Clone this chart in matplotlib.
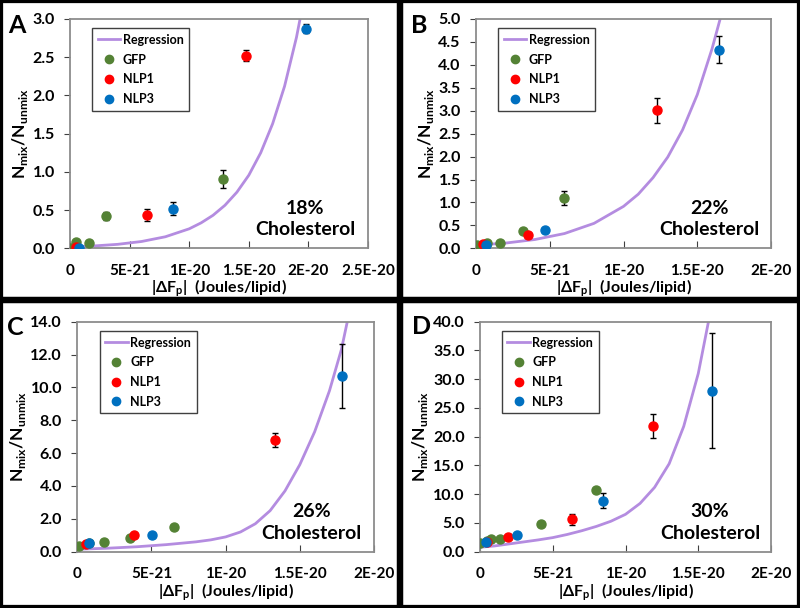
import numpy as np
import matplotlib.pyplot as plt
from matplotlib.lines import Line2D

plt.rcParams['font.family'] = ['Lato', 'DejaVu Sans']
plt.rcParams['mathtext.fontset'] = 'custom'
plt.rcParams['mathtext.bf'] = 'Lato:bold'
plt.rcParams['mathtext.rm'] = 'Lato'

# x values in units of 1e-20 J/lipid
# panel A - 18% cholesterol
a_gfp_x = [0.011, 0.053, 0.16, 0.305, 1.28]
a_gfp_y = [0.01, 0.079, 0.065, 0.42, 0.91]
a_gfp_e = [0, 0, 0, 0.05, 0.12]
a_nlp1_x = [0.053, 0.647, 1.479]
a_nlp1_y = [0.02, 0.44, 2.52]
a_nlp1_e = [0, 0.08, 0.07]
a_nlp3_x = [0.073, 0.863, 1.98]
a_nlp3_y = [0.0, 0.52, 2.875]
a_nlp3_e = [0, 0.08, 0.06]
a_fit_x = [0, 0.2, 0.4, 0.6, 0.8, 1.0, 1.1, 1.2, 1.3, 1.4, 1.5, 1.6, 1.7, 1.8, 1.9, 1.93]
a_fit_y = [0.018, 0.031, 0.052, 0.089, 0.151, 0.255, 0.333, 0.432, 0.563, 0.734,
           0.956, 1.25, 1.63, 2.12, 2.76, 3.0]

# panel B - 22%
b_gfp_x = [0.009, 0.072, 0.162, 0.32, 0.595]
b_gfp_y = [0.07, 0.12, 0.11, 0.38, 1.09]
b_gfp_e = [0, 0, 0, 0, 0.15]
b_nlp1_x = [0.05, 0.353, 1.228]
b_nlp1_y = [0.09, 0.30, 3.01]
b_nlp1_e = [0, 0, 0.27]
b_nlp3_x = [0.068, 0.466, 1.649]
b_nlp3_y = [0.07, 0.40, 4.33]
b_nlp3_e = [0, 0, 0.30]
b_fit_x = [0, 0.2, 0.4, 0.6, 0.8, 1.0, 1.1, 1.2, 1.3, 1.4, 1.5, 1.6, 1.655]
b_fit_y = [0.068, 0.114, 0.192, 0.322, 0.544, 0.914, 1.18, 1.54, 1.99, 2.58, 3.35, 4.35, 5.0]

# panel C - 26%
c_gfp_x = [0.011, 0.08, 0.18, 0.355, 0.653]
c_gfp_y = [0.37, 0.5, 0.62, 0.83, 1.49]
c_gfp_e = [0, 0, 0, 0, 0]
c_nlp1_x = [0.056, 0.384, 1.333]
c_nlp1_y = [0.45, 1.0, 6.8]
c_nlp1_e = [0, 0, 0.45]
c_nlp3_x = [0.077, 0.505, 1.786]
c_nlp3_y = [0.51, 1.02, 10.7]
c_nlp3_e = [0, 0, 1.97]
c_fit_x = [0, 0.2, 0.4, 0.6, 0.8, 0.9, 1.0, 1.1, 1.2, 1.3, 1.4, 1.5, 1.6, 1.7, 1.78, 1.82]
c_fit_y = [0.15, 0.21, 0.3, 0.43, 0.6, 0.72, 0.9, 1.2, 1.7, 2.5, 3.7, 5.3, 7.3, 9.8, 12.3, 14.0]

# panel D - 30%
d_gfp_x = [0.0, 0.05, 0.074, 0.138, 0.417, 0.80]
d_gfp_y = [1.57, 1.9, 2.15, 2.15, 4.76, 10.7]
d_gfp_e = [0, 0, 0, 0, 0, 0]
d_nlp1_x = [0.05, 0.195, 0.635, 1.192]
d_nlp1_y = [1.74, 2.5, 5.63, 21.86]
d_nlp1_e = [0, 0, 0.9, 2.17]
d_nlp3_x = [0.041, 0.254, 0.844, 1.596]
d_nlp3_y = [1.69, 2.9, 8.87, 28.0]
d_nlp3_e = [0, 0, 1.3, 9.97]
d_fit_x = [0, 0.1, 0.2, 0.3, 0.4, 0.5, 0.6, 0.7, 0.8, 0.9, 1.0, 1.1, 1.2, 1.3, 1.4, 1.5, 1.57]
d_fit_y = [0.77, 1.0, 1.35, 1.7, 2.05, 2.45, 3.0, 3.65, 4.4, 5.3, 6.5, 8.4, 11.2, 15.3, 21.8, 31.0, 40.0]

letters = ['A', 'B', 'C', 'D']
chol = ['18%', '22%', '26%', '30%']
ymax = [3.0, 5.0, 14.0, 40.0]
ystep = [0.5, 0.5, 2.0, 5.0]
xmax = [2.5, 2.0, 2.0, 2.0]
xtick_labels = ['0', '5E-21', '1E-20', '1.5E-20', '2E-20', '2.5E-20']

col_gfp = '#548235'
col_nlp1 = '#FF0000'
col_nlp3 = '#0070C0'
col_fit = '#B48CE0'

# axes rectangles in figure fraction
rects = [[0.0875, 0.5916, 0.3725, 0.3772],
         [0.595, 0.5916, 0.3688, 0.3772],
         [0.0966, 0.0926, 0.3709, 0.3783],
         [0.600, 0.0926, 0.3638, 0.3783]]
# letter positions (pixels from left / baseline from top)
letter_xy = [(8, 33), (411, 33), (7, 335), (412, 334)]

panels = [
    (a_gfp_x, a_gfp_y, a_gfp_e, a_nlp1_x, a_nlp1_y, a_nlp1_e, a_nlp3_x, a_nlp3_y, a_nlp3_e, a_fit_x, a_fit_y),
    (b_gfp_x, b_gfp_y, b_gfp_e, b_nlp1_x, b_nlp1_y, b_nlp1_e, b_nlp3_x, b_nlp3_y, b_nlp3_e, b_fit_x, b_fit_y),
    (c_gfp_x, c_gfp_y, c_gfp_e, c_nlp1_x, c_nlp1_y, c_nlp1_e, c_nlp3_x, c_nlp3_y, c_nlp3_e, c_fit_x, c_fit_y),
    (d_gfp_x, d_gfp_y, d_gfp_e, d_nlp1_x, d_nlp1_y, d_nlp1_e, d_nlp3_x, d_nlp3_y, d_nlp3_e, d_fit_x, d_fit_y),
]

fig = plt.figure(figsize=(8, 6.08), dpi=100)

for i, p in enumerate(panels):
    gx, gy, ge, n1x, n1y, n1e, n3x, n3y, n3e, fx, fy = p
    ax = fig.add_axes(rects[i])
    sc = 1e-20
    ax.plot(np.array(fx) * sc, fy, color=col_fit, lw=2, zorder=2, solid_joinstyle='round')
    for xs, ys, es, c in [(gx, gy, ge, col_gfp), (n1x, n1y, n1e, col_nlp1), (n3x, n3y, n3e, col_nlp3)]:
        ax.errorbar(np.array(xs) * sc, ys, yerr=es, fmt='o', color=c, ms=6.5, mec=c,
                    ecolor='black', elinewidth=1, capsize=2, capthick=1, zorder=3)
    ax.set_xlim(0, xmax[i] * sc)
    ax.set_ylim(0, ymax[i])
    nx = int(round(xmax[i] / 0.5)) + 1
    ax.set_xticks(np.arange(nx) * 0.5 * sc)
    ax.set_xticklabels(xtick_labels[:nx])
    yt = np.arange(0, ymax[i] + 1e-9, ystep[i])
    ax.set_yticks(yt)
    ax.set_yticklabels(['%.1f' % v for v in yt])
    for s in ax.spines.values():
        s.set_color('#8c8c8c')
        s.set_linewidth(1.3)
    ax.tick_params(axis='y', direction='out', length=4, color='#404040', labelsize=11.5, pad=7)
    ax.tick_params(axis='x', direction='in', length=5, color='#404040', labelsize=11, pad=11)
    for lab in ax.get_xticklabels() + ax.get_yticklabels():
        lab.set_fontweight('bold')
    ax.set_ylabel(r'N$_{\mathbf{mix}}$/N$_{\mathbf{unmix}}$', fontsize=12.5, fontweight='bold', labelpad=2)
    ax.set_xlabel(r'|ΔF$_{\mathbf{p}}$|  (Joules/lipid)', fontsize=11.5, fontweight='bold', labelpad=0)
    ax.text(0.79, 0.175, chol[i], transform=ax.transAxes, ha='center', va='center',
            fontsize=14, fontweight='bold')
    ax.text(0.79, 0.08, 'Cholesterol', transform=ax.transAxes, ha='center', va='center',
            fontsize=14, fontweight='bold')
    handles = [Line2D([], [], color=col_fit, lw=2, label='Regression'),
               Line2D([], [], color=col_gfp, marker='o', ls='', ms=6, label='GFP'),
               Line2D([], [], color=col_nlp1, marker='o', ls='', ms=6, label='NLP1'),
               Line2D([], [], color=col_nlp3, marker='o', ls='', ms=6, label='NLP3')]
    leg = ax.legend(handles=handles, loc='upper left', bbox_to_anchor=(0.075, 0.96),
                    fancybox=False, framealpha=1, edgecolor='#404040',
                    prop={'weight': 'bold', 'size': 9}, handlelength=1.8,
                    handletextpad=0.2, labelspacing=0.62, borderpad=0.45,
                    borderaxespad=0)
    leg.get_frame().set_linewidth(1)
    lx, ly = letter_xy[i]
    fig.text(lx / 800, 1 - ly / 608, letters[i], fontsize=18,
             fontweight='bold', va='baseline', ha='left')

# panel frames
ymid = 1 - 300 / 608
for x0, y0, w, h in [(0, ymid, 0.5, 1 - ymid), (0.5, ymid, 0.5, 1 - ymid),
                     (0, 0, 0.5, ymid), (0.5, 0, 0.5, ymid)]:
    fig.add_artist(plt.Rectangle((x0, y0), w, h, transform=fig.transFigure,
                                 fill=False, ec='black', lw=4.5))

fig.savefig('out.png', dpi=100)
